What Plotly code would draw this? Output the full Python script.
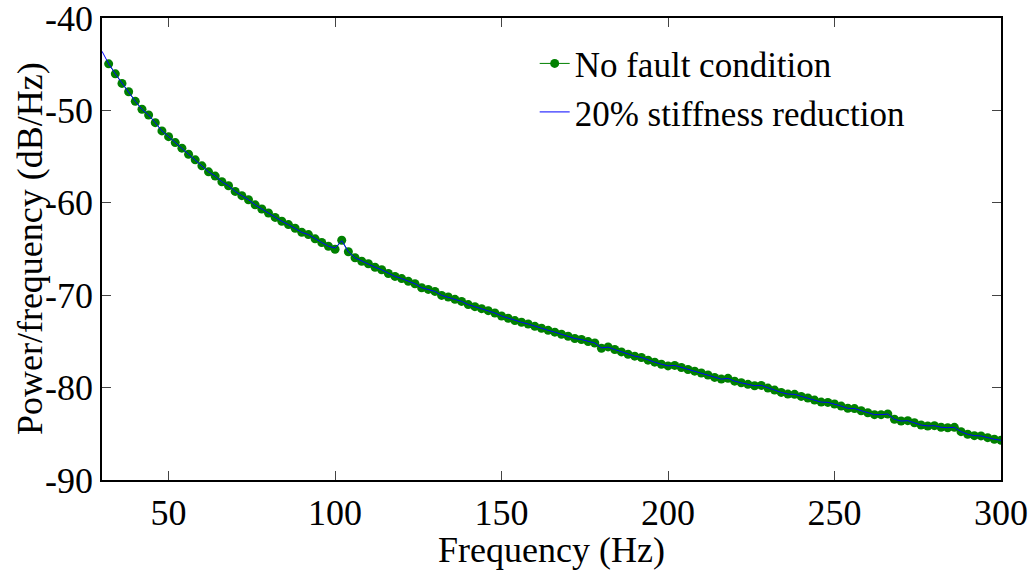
import plotly.graph_objects as go

# Frequencies (Hz) of the "No fault condition" estimate points (2 Hz spacing)
freq_nofault = [32 + 2 * i for i in range(135)]
psd_nofault = [
    -44.96, -46.04, -47.08, -47.98, -49.02, -49.88, -50.50, -51.33, -52.22, -52.84,
    -53.48, -54.09, -54.74, -55.35, -56.00, -56.65, -57.11, -57.72, -58.16, -58.77,
    -59.23, -59.67, -60.22, -60.67, -61.10, -61.58, -62.00, -62.36, -62.76, -63.20,
    -63.44, -63.90, -64.30, -64.70, -65.03, -64.05, -65.30, -65.95, -66.32, -66.60,
    -66.97, -67.25, -67.65, -67.97, -68.20, -68.50, -68.76, -69.19, -69.37, -69.59,
    -70.02, -70.20, -70.45, -70.67, -71.02, -71.24, -71.46, -71.67, -71.93, -72.25,
    -72.50, -72.75, -72.93, -73.12, -73.37, -73.58, -73.80, -74.00, -74.23, -74.44,
    -74.69, -74.80, -75.02, -75.17, -75.74, -75.60, -75.88, -76.14, -76.39, -76.60,
    -76.74, -77.03, -77.25, -77.47, -77.65, -77.60, -77.82, -78.04, -78.22, -78.42,
    -78.64, -78.90, -79.08, -79.00, -79.30, -79.48, -79.65, -79.80, -79.76, -80.05,
    -80.27, -80.52, -80.70, -80.73, -80.95, -81.13, -81.35, -81.57, -81.60, -81.78,
    -82.00, -82.24, -82.27, -82.50, -82.72, -82.93, -82.93, -82.86, -83.43, -83.62,
    -83.58, -83.80, -84.05, -84.15, -84.12, -84.29, -84.34, -84.30, -84.77, -85.05,
    -85.20, -85.23, -85.42, -85.59, -85.70,
]

# "20% stiffness reduction" (starts at 30 Hz, nearly identical curve)
freq_stiff = [30] + [32 + 2 * i for i in range(135)]
psd_stiff = [
    -43.60,
    -44.96, -46.04, -47.08, -47.98, -49.02, -49.88, -50.50, -51.33, -52.22, -52.84,
    -53.48, -54.09, -54.74, -55.35, -56.00, -56.65, -57.11, -57.72, -58.16, -58.77,
    -59.23, -59.67, -60.22, -60.67, -61.10, -61.58, -62.00, -62.36, -62.76, -63.20,
    -63.44, -63.90, -64.30, -64.70, -64.90, -64.10, -65.30, -65.95, -66.32, -66.60,
    -66.97, -67.25, -67.65, -67.97, -68.20, -68.50, -68.76, -69.19, -69.37, -69.59,
    -70.02, -70.20, -70.45, -70.67, -71.02, -71.24, -71.46, -71.67, -71.93, -72.25,
    -72.50, -72.75, -72.93, -73.12, -73.37, -73.58, -73.80, -74.00, -74.23, -74.44,
    -74.69, -74.80, -75.02, -75.17, -75.70, -75.62, -75.88, -76.14, -76.39, -76.60,
    -76.74, -77.03, -77.25, -77.47, -77.65, -77.60, -77.82, -78.04, -78.22, -78.42,
    -78.64, -78.90, -79.08, -79.00, -79.30, -79.48, -79.65, -79.80, -79.76, -80.05,
    -80.27, -80.52, -80.70, -80.73, -80.95, -81.13, -81.35, -81.57, -81.60, -81.78,
    -82.00, -82.24, -82.27, -82.50, -82.72, -82.93, -82.93, -82.86, -83.43, -83.62,
    -83.58, -83.80, -84.05, -84.15, -84.12, -84.29, -84.34, -84.30, -84.77, -85.05,
    -85.20, -85.23, -85.42, -85.59, -85.70,
]

x_ticks = [50, 100, 150, 200, 250, 300]
y_ticks = [-90, -80, -70, -60, -50, -40]
x_title = "Frequency (Hz)"
y_title = "Power/frequency (dB/Hz)"

FONT = "Liberation Serif"

fig = go.Figure()
fig.add_trace(go.Scatter(
    x=freq_nofault, y=psd_nofault, mode="lines+markers",
    name="No fault condition",
    line=dict(color="#008000", width=1),
    marker=dict(color="#008000", size=9),
))
fig.add_trace(go.Scatter(
    x=freq_stiff, y=psd_stiff, mode="lines",
    name="20% stiffness reduction",
    line=dict(color="#0000FF", width=1),
))

axis_common = dict(
    showline=True, linecolor="black", linewidth=1.5, mirror="ticks",
    ticks="inside", ticklen=9, tickcolor="#444444", tickwidth=1,
    showgrid=False, zeroline=False, automargin=False,
    ticklabeloverflow="allow",
    tickfont=dict(family=FONT, size=36, color="black"),
)

fig.update_layout(
    width=1035, height=570,
    margin=dict(l=102, r=34, t=18, b=90, pad=0),
    paper_bgcolor="white", plot_bgcolor="white",
    font=dict(family=FONT, size=36, color="black"),
    xaxis=dict(
        range=[30, 300], tickvals=x_ticks,
        ticktext=[str(v) for v in x_ticks],
        title=dict(text=x_title, font=dict(family=FONT, size=36), standoff=2),
        **axis_common,
    ),
    yaxis=dict(
        range=[-90, -40], tickvals=y_ticks,
        ticktext=[str(v) for v in y_ticks],
        **axis_common,
    ),
    legend=dict(
        x=0.4813, y=0.965, xanchor="left", yanchor="top",
        bgcolor="rgba(0,0,0,0)", borderwidth=0,
        font=dict(family=FONT, size=35, color="black"),
        tracegroupgap=0, itemwidth=30,
    ),
    showlegend=True,
)

fig.add_annotation(
    text=y_title, textangle=-90, showarrow=False,
    xref="paper", yref="paper", x=-0.080, y=0.5,
    xanchor="center", yanchor="middle",
    font=dict(family=FONT, size=36, color="black"),
)

fig.write_html("out.html")
